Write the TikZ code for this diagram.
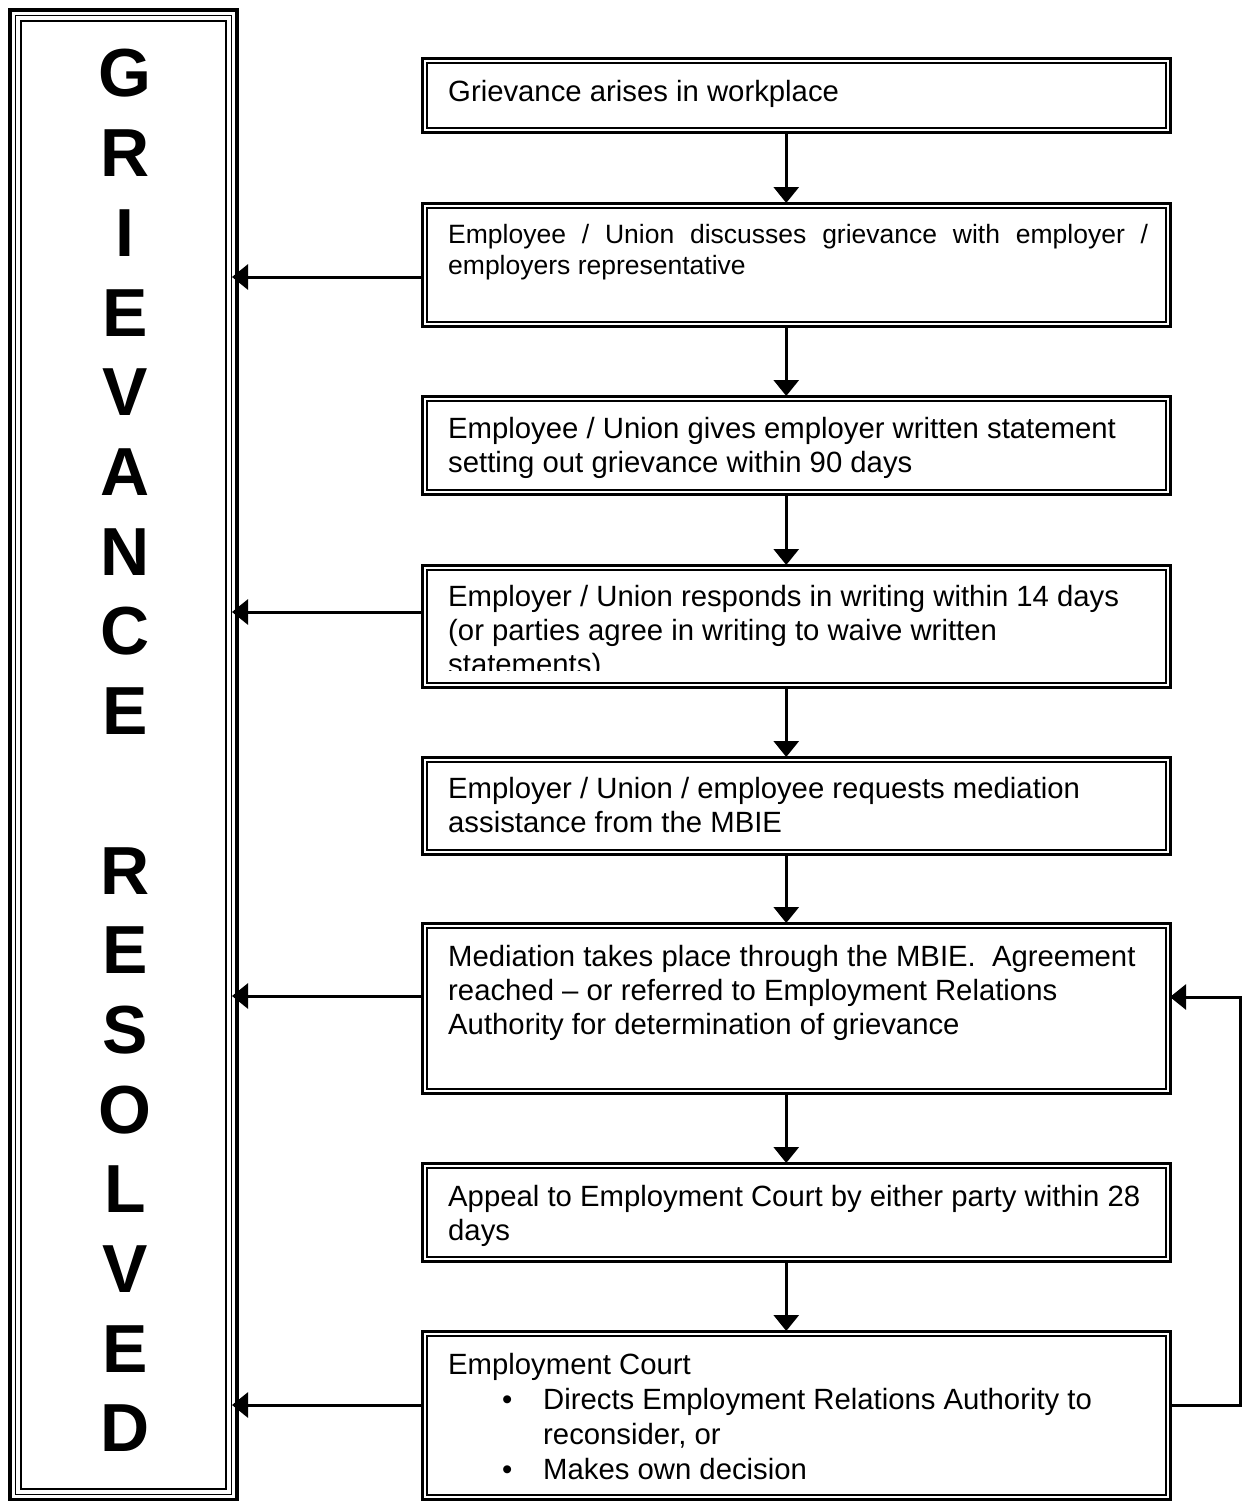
\documentclass[tikz,border=0pt]{standalone}
\usepackage{fontspec}
\setmainfont{Liberation Sans}
\usetikzlibrary{arrows.meta, positioning}
\newcommand{\bul}{\makebox[95pt][l]{\hspace*{54pt}\textbullet}}
\hyphenpenalty=10000
\exhyphenpenalty=10000

\tikzset{
  flowbox/.style={draw, line width=3pt, minimum width=747.5pt, inner sep=0pt, outer sep=0pt, anchor=north west},
  flowtext/.style={anchor=base west, inner sep=0pt, text width=696pt, align=flush left, font=\fontsize{29.3}{34}\selectfont},
  letter/.style={anchor=base, inner sep=0pt, font=\fontsize{68}{80}\selectfont\bfseries},
  arr/.style={line width=3pt, -{Triangle[width=25pt,length=16pt]}},
}

\begin{document}
\begin{tikzpicture}[x=1pt, y=-1pt]
  \useasboundingbox (0,0) rectangle (1245,1501);
  % Side column
  \node[draw, line width=4pt, minimum width=227pt, minimum height=1490pt, inner sep=0pt, outer sep=0pt, anchor=north west] (side) at (10,10) {};
  \draw[line width=1.5pt] ([shift={(5.5,5.5)}]side.north west) rectangle ([shift={(-5.5,-5.5)}]side.south east);
  \draw[line width=2pt] ([shift={(11,11)}]side.north west) rectangle ([shift={(-11,-11)}]side.south east);
  \foreach \ch [count=\i from 0] in {G,R,I,E,V,A,N,C,E}
    \node[letter] (g\i) at (125,97+79.7*\i) {\ch};
  \foreach \ch [count=\i from 10] in {R,E,S,O,L,V,E,D}
    \node[letter] (r\i) at (125,97+79.7*\i) {\ch};
  % Steps
  \foreach \n/\ya/\hh in {1/59/74, 2/203/123, 3/396/98, 4/565/122, 5/757/97, 6/923/170, 7/1163/98, 8/1331/168}
    \node[flowbox, minimum height=\hh pt] (b\n) at (422.5,\ya) {};
  \foreach \n in {1,...,8}
    \draw[line width=2pt] ([shift={(4.5,4.5)}]b\n.north west) rectangle ([shift={(-4.5,-4.5)}]b\n.south east);
  % Texts
  \node[flowtext] (t1) at (448,102) {Grievance arises in workplace};
  \node[flowtext, text width=700pt, align=justify, font=\fontsize{26.5}{31}\selectfont] (t2) at (448,243.5) {Employee / Union discusses grievance with employer / employers representative};
  \node[flowtext] (t3) at (448,438) {Employee / Union gives employer written statement setting out grievance within 90 days};
  \begin{scope}
    \clip (425,560) rectangle (1166,670);
    \node[flowtext] (t4) at (448,606) {Employer / Union responds in writing within 14 days (or parties agree in writing to waive written statements)};
  \end{scope}
  \node[flowtext] (t5) at (448,798) {Employer / Union / employee requests mediation assistance from the MBIE};
  \node[flowtext] (t6) at (448,966) {Mediation takes place through the MBIE.\ \ Agreement reached – or referred to Employment Relations Authority for determination of grievance};
  \node[flowtext] (t7) at (448,1206) {Appeal to Employment Court by either party within 28 days};
  \node[flowtext, font=\fontsize{29.3}{35}\selectfont] (t8) at (448,1374) {Employment Court\\ \bul Directs Employment Relations Authority to\\ \hspace*{95pt}reconsider, or\\ \bul Makes own decision};
  % Arrows down
  \foreach \a/\b in {1/2,2/3,3/4,4/5,5/6,6/7,7/8}
    \draw[arr] ([xshift=-10pt]b\a.south) -- ([xshift=-10pt]b\b.north);
  % Arrows to side column
  \foreach \n/\d in {2/74,4/47,6/73,8/74}{
    \coordinate (l\n) at ([yshift=-\d pt]b\n.north west);
    \draw[arr] (l\n) -- ([xshift=-5pt]l\n -| side.east);
  }
  % Loop back
  \coordinate (fb) at ([yshift=-74pt]b8.north east);
  \coordinate (fa) at ([yshift=-74pt]b6.north east);
  \draw[arr] (fb) -- ++(70,0) |- (fa);
\end{tikzpicture}
\end{document}
